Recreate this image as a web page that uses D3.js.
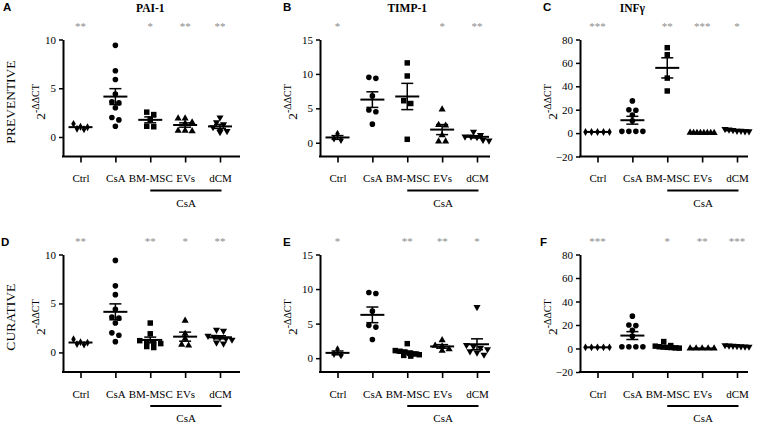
<!DOCTYPE html>
<html><head><meta charset="utf-8">
<script src="https://cdn.jsdelivr.net/npm/d3@7"></script>
<style>body{margin:0;background:#fff} svg{display:block}</style>
</head><body><svg id="c" width="758" height="424"></svg>
<script>
// ---------------- DATA ----------------
const categories = ["Ctrl", "CsA", "BM-MSC", "EVs", "dCM"];
const genes = ["PAI-1", "TIMP-1", "INFγ"];
const rowLabels = ["PREVENTIVE", "CURATIVE"];
const panelLetters = [["A", "B", "C"], ["D", "E", "F"]];
const bracketLabel = "CsA";
const yLabelBase = "2";
const yLabelSup = "-ΔΔCT";

const yDomains = [[-2, 10], [-2, 15], [-20, 80]];
const yTickValues = [[0, 5, 10], [0, 5, 10, 15], [-20, 0, 20, 40, 60, 80]];

// shared groups (same animals in both protocols)
const ctrlPAI = [1.05, 0.8, 0.85, 1.0, 1.35];
const csaPAI = [9.4, 6.8, 5.9, 4.4, 3.6, 3.5, 3.0, 2.0, 1.75, 1.1];
const ctrlTIMP = [1.3, 0.6, 0.4];
const csaTIMP = [9.5, 9.36, 6.8, 4.75, 4.5, 2.7];
const ctrlINF = [1, 1, 1, 1, 1];
const csaINF = [27.5, 20, 19.5, 15.5, 10.5, 1.5, 1.5, 1.5, 1.5];

// preventive
const prevPAI_BM = [2.55, 2.3, 1.8, 1.1, 1.05];
const prevPAI_EV = [1.9, 1.9, 1.5, 1.4, 0.65, 0.6, 0.65];
const prevPAI_dCM = [2.0, 1.5, 1.3, 1.0, 0.7, 0.5, 0.6];
const prevTIMP_BM = [11.6, 9.7, 6.1, 5.7, 0.5];
const prevTIMP_EV = [4.85, 2.6, 2.5, 1.1, 0.2, 0.2];
const prevTIMP_dCM = [1.6, 0.9, 0.8, 0.9, 1.1, 0.3, 0.4];
const prevINF_BM = [73, 67, 47, 36];
const prevINF_EV = [0.3, 0.1, 0.2, 0.4, 0.1, 0.2, 0.3, 0.2];
const prevINF_dCM = [1.5, 2.0, 2.5, 3.5, 2.0, 1.5, 3.0];

// curative
const curPAI_BM = [3.0, 1.9, 1.2, 1.1, 1.0, 0.9, 0.5, 0.6];
const curPAI_EV = [3.25, 1.9, 1.4, 0.8, 0.7];
const curPAI_dCM = [2.3, 2.2, 1.7, 1.6, 1.5, 1.4, 1.3, 1.0, 0.9];
const curTIMP_BM = [2.1, 1.0, 0.9, 1.1, 0.7, 0.6, 0.4, 0.3, 0.5];
const curTIMP_EV = [2.6, 1.8, 1.7, 1.3, 1.1];
const curTIMP_dCM = [7.4, 1.9, 1.7, 1.5, 1.3, 1.0, 0.8, 0.5];
const curINF_BM = [5.9, 2.5, 2.0, 1.5, 1.2, 1.0, 0.8, 0.5, 0.3];
const curINF_EV = [0.05, 0.1, 0.05, 0.1, 0.05];
const curINF_dCM = [1.5, 2.0, 2.5, 2.8, 2.2, 1.8, 1.6];

const starsPreventive = [["**", "", "*", "**", "**"], ["*", "", "", "*", "**"], ["***", "", "**", "***", "*"]];
const starsCurative = [["**", "", "**", "*", "**"], ["*", "", "**", "**", "*"], ["***", "", "*", "**", "***"]];

// ---------------- LAYOUT ----------------
const svg = d3.select("#c");
const SERIF = "'Liberation Serif','Times New Roman',serif";
const SANS = "'Liberation Sans',Arial,sans-serif";
const colAxisX = [63, 320, 580];
const colAxisEnd = [240, 490, 748];
const colYLabelOff = [18, 23, 23];
const titleAnchorCat = ["BM-MSC", "BM-MSC", "CsA"];
const letterX = [[3, 283, 543], [1, 283, 540]];
const rowTop = [39.5, 254.5];
const rowBottom = [156.5, 372];

const panelData = [
  [[ctrlPAI, csaPAI, prevPAI_BM, prevPAI_EV, prevPAI_dCM],
   [ctrlTIMP, csaTIMP, prevTIMP_BM, prevTIMP_EV, prevTIMP_dCM],
   [ctrlINF, csaINF, prevINF_BM, prevINF_EV, prevINF_dCM]],
  [[ctrlPAI, csaPAI, curPAI_BM, curPAI_EV, curPAI_dCM],
   [ctrlTIMP, csaTIMP, curTIMP_BM, curTIMP_EV, curTIMP_dCM],
   [ctrlINF, csaINF, curINF_BM, curINF_EV, curINF_dCM]]
];
const panelStars = [starsPreventive, starsCurative];

const symbols = [
  {type: d3.symbolDiamond, size: 18, rot: 0},
  {type: d3.symbolCircle, size: 25, rot: 0},
  {type: d3.symbolSquare, size: 30, rot: 0},
  {type: d3.symbolTriangle, size: 22, rot: 0},
  {type: d3.symbolTriangle, size: 22, rot: 180}
];

function swarm(values, y, cx) {
  const pts = values.map(v => ({v, py: y(v)})).sort((a, b) => a.py - b.py);
  const rows = [];
  pts.forEach(p => {
    const last = rows[rows.length - 1];
    if (last && p.py - last[0].py < 4.5) last.push(p); else rows.push([p]);
  });
  rows.forEach(r => {
    const n = r.length;
    const sp = n > 1 ? Math.min(7, 24 / (n - 1)) : 0;
    r.forEach((p, i) => p.px = cx + (i - (n - 1) / 2) * sp);
  });
  return pts;
}

for (let row = 0; row < 2; row++) {
  const rcy = (rowTop[row] + rowBottom[row]) / 2 + 4;
  svg.append("text")
    .attr("transform", `translate(15,${rcy}) rotate(-90)`)
    .attr("text-anchor", "middle")
    .attr("font-family", SERIF).attr("font-size", 13.5)
    .text(rowLabels[row]);

  for (let col = 0; col < 3; col++) {
    const ax = colAxisX[col];
    const g = svg.append("g");
    const x = d3.scalePoint().domain(categories).range([ax + 17.5, ax + 157]);
    const y = d3.scaleLinear().domain(yDomains[col]).range([rowBottom[row], rowTop[row]]);

    // y axis
    const yAxis = d3.axisLeft(y).tickValues(yTickValues[col]).tickSize(4).tickPadding(3).tickSizeOuter(0);
    const ya = g.append("g").attr("transform", `translate(${ax},0)`).call(yAxis)
      .attr("font-family", SERIF).attr("font-size", 11);
    ya.select(".domain").attr("stroke", "#000").attr("stroke-width", 2);
    ya.selectAll(".tick line").attr("stroke", "#000").attr("stroke-width", 1.5);
    ya.selectAll(".tick text").attr("fill", "#000");

    // x axis
    const xAxis = d3.axisBottom(x).tickSize(6).tickPadding(12).tickSizeOuter(0);
    const xa = g.append("g").attr("transform", `translate(0,${rowBottom[row]})`).call(xAxis)
      .attr("font-family", SERIF).attr("font-size", 11);
    xa.select(".domain").remove();
    xa.selectAll(".tick line").attr("stroke", "#000").attr("stroke-width", 1.6);
    xa.selectAll(".tick text").attr("fill", "#000");
    g.append("line").attr("x1", ax - 1).attr("x2", colAxisEnd[col])
      .attr("y1", rowBottom[row]).attr("y2", rowBottom[row])
      .attr("stroke", "#000").attr("stroke-width", 2);

    // bracket under treated groups
    g.append("line").attr("x1", x("BM-MSC")).attr("x2", x("dCM") + 1.5)
      .attr("y1", rowBottom[row] + 34).attr("y2", rowBottom[row] + 34)
      .attr("stroke", "#000").attr("stroke-width", 2);
    g.append("text").attr("x", (x("BM-MSC") + x("dCM")) / 2 + 1)
      .attr("y", rowBottom[row] + 50)
      .attr("text-anchor", "middle").attr("font-family", SERIF).attr("font-size", 11)
      .text(bracketLabel);

    // y label
    const yl = g.append("text")
      .attr("transform", `translate(${ax - colYLabelOff[col]},${rcy}) rotate(-90)`)
      .attr("text-anchor", "middle").attr("font-family", SERIF);
    yl.append("tspan").attr("font-size", 13.5).text(yLabelBase);
    yl.append("tspan").attr("font-size", 10).attr("dy", -6.5).text(yLabelSup);

    // title & letter
    if (row === 0) {
      g.append("text").attr("x", x(titleAnchorCat[col])).attr("y", 11.5)
        .attr("text-anchor", "middle").attr("font-family", SERIF)
        .attr("font-weight", "bold").attr("font-size", 11.5).text(genes[col]);
    }
    g.append("text").attr("x", letterX[row][col]).attr("y", row === 0 ? 11 : 245.5)
      .attr("font-family", SANS).attr("font-weight", "bold").attr("font-size", 11.5)
      .text(panelLetters[row][col]);

    // stars
    g.selectAll("text.star").data(panelStars[row][col]).join("text")
      .attr("class", "star")
      .attr("x", (d, i) => x(categories[i]))
      .attr("y", rowTop[row] - 10)
      .attr("text-anchor", "middle").attr("font-family", SERIF).attr("font-size", 11)
      .attr("fill", "#8c8c8c").text(d => d);

    // points + mean/SEM
    panelData[row][col].forEach((vals, ci) => {
      const cx = x(categories[ci]);
      const pts = swarm(vals, y, cx);
      const sym = symbols[ci];
      const path = d3.symbol().type(sym.type).size(sym.size)();
      g.selectAll(null).data(pts).join("path")
        .attr("d", path)
        .attr("transform", d => `translate(${d.px},${d.py}) rotate(${sym.rot})`)
        .attr("fill", "#000");
      const m = d3.mean(vals);
      const sem = vals.length > 1 ? d3.deviation(vals) / Math.sqrt(vals.length) : 0;
      g.append("line").attr("x1", cx - 12).attr("x2", cx + 12)
        .attr("y1", y(m)).attr("y2", y(m)).attr("stroke", "#000").attr("stroke-width", 2);
      if (sem * Math.abs(y(0) - y(1)) > 1) {
        g.append("line").attr("x1", cx).attr("x2", cx)
          .attr("y1", y(m - sem)).attr("y2", y(m + sem)).attr("stroke", "#000").attr("stroke-width", 1.5);
        [m - sem, m + sem].forEach(v => {
          g.append("line").attr("x1", cx - 6).attr("x2", cx + 6)
            .attr("y1", y(v)).attr("y2", y(v)).attr("stroke", "#000").attr("stroke-width", 1.5);
        });
      }
    });
  }
}
</script></body></html>
